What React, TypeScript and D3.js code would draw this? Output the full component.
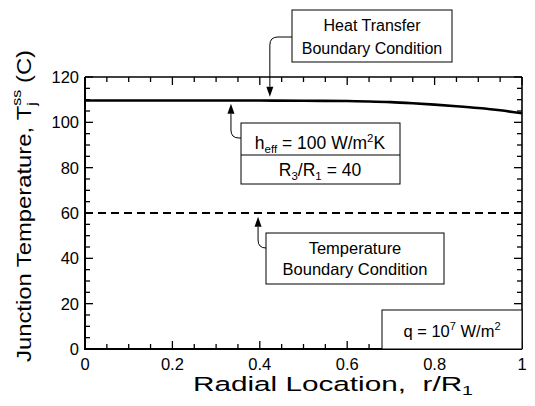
import React from 'react';
import * as d3 from 'd3';

// values
const radial = [0, 0.1, 0.2, 0.3, 0.4, 0.5, 0.6, 0.65, 0.7, 0.75, 0.8, 0.85, 0.9, 0.95, 1.0];
const heatTransferBC = [109.6, 109.6, 109.6, 109.6, 109.6, 109.5, 109.4, 109.2, 108.9, 108.4, 107.8, 107.1, 106.3, 105.3, 104.0];
const tempRadial = [0, 1];
const temperatureBC = [60, 60];

const xMajor = [0, 0.2, 0.4, 0.6, 0.8, 1];
const xLabels = ['0', '0.2', '0.4', '0.6', '0.8', '1'];
const yMajor = [0, 20, 40, 60, 80, 100, 120];

const W = 535;
const H = 406;
const margin = { left: 85, right: 13, top: 77, bottom: 57 };
const font = '"Liberation Sans", Arial, Helvetica, sans-serif';

const x = d3.scaleLinear().domain([0, 1]).range([margin.left, W - margin.right]);
const y = d3.scaleLinear().domain([0, 120]).range([H - margin.bottom, margin.top]);

const line = d3.line<number>()
  .x((_, i) => x(radial[i]))
  .y(d => y(d))
  .curve(d3.curveMonotoneX);

const dashLine = d3.line<number>()
  .x((_, i) => x(tempRadial[i]))
  .y(d => y(d));

// curved leader from a box edge to a target point, with a filled head
const Leader = ({ fx, fy, tx, ty }: { fx: number; fy: number; tx: number; ty: number }) => {
  const dir = ty > fy ? 1 : -1;
  const r = 8;
  const head = 10;
  const d = `M${fx},${fy} L${tx + r},${fy} Q${tx},${fy} ${tx},${fy + dir * r} L${tx},${ty - dir * head}`;
  return (
    <g>
      <path d={d} fill="none" stroke="#000" strokeWidth={1} />
      <path d={`M${tx},${ty} L${tx - 3.5},${ty - dir * head} L${tx + 3.5},${ty - dir * head} Z`} fill="#000" />
    </g>
  );
};

export default function App() {
  const x0 = x.range()[0], x1 = x.range()[1];
  const y0 = y.range()[0], y1 = y.range()[1];
  const xMinor = d3.range(0, 1.0001, 0.05).filter(v => !xMajor.some(m => Math.abs(m - v) < 1e-6));
  const yMinor = d3.range(0, 120.001, 5).filter(v => v % 20 !== 0);

  return (
    <div style={{ position: 'fixed', left: 0, top: 0 }}>
      <svg width={W} height={H} style={{ display: 'block', background: '#fff' }} fontFamily={font}>
        {/* ticks, inward on all four sides */}
        <g stroke="#000" strokeWidth={1.3}>
          {xMajor.map(v => (
            <g key={'xm' + v}>
              <line x1={x(v)} x2={x(v)} y1={y0} y2={y0 - 8} />
              <line x1={x(v)} x2={x(v)} y1={y1} y2={y1 + 8} />
            </g>
          ))}
          {xMinor.map(v => (
            <g key={'xn' + v}>
              <line x1={x(v)} x2={x(v)} y1={y0} y2={y0 - 5} />
              <line x1={x(v)} x2={x(v)} y1={y1} y2={y1 + 5} />
            </g>
          ))}
          {yMajor.map(v => (
            <g key={'ym' + v}>
              <line x1={x0} x2={x0 + 8} y1={y(v)} y2={y(v)} />
              <line x1={x1} x2={x1 - 8} y1={y(v)} y2={y(v)} />
            </g>
          ))}
          {yMinor.map(v => (
            <g key={'yn' + v}>
              <line x1={x0} x2={x0 + 5} y1={y(v)} y2={y(v)} />
              <line x1={x1} x2={x1 - 5} y1={y(v)} y2={y(v)} />
            </g>
          ))}
        </g>

        {/* frame */}
        <line x1={x0} x2={x1} y1={y1} y2={y1} stroke="#000" strokeWidth={1.6} />
        <line x1={x1} x2={x1} y1={y1} y2={y0} stroke="#000" strokeWidth={1.6} />
        <line x1={x0} x2={x0} y1={y1} y2={y0 + 1} stroke="#000" strokeWidth={2} />
        <line x1={x0 - 1} x2={x1} y1={y0} y2={y0} stroke="#000" strokeWidth={2} />

        {/* tick labels */}
        <g fontSize={16.5} fill="#000">
          {xMajor.map((v, i) => (
            <text key={'xl' + v} x={x(v)} y={y0 + 21} textAnchor="middle">{xLabels[i]}</text>
          ))}
          {yMajor.map(v => (
            <text key={'yl' + v} x={x0 - 6} y={y(v) + 6} textAnchor="end">{v}</text>
          ))}
        </g>

        {/* series */}
        <path d={line(heatTransferBC) || ''} fill="none" stroke="#000" strokeWidth={2.6} />
        <path d={dashLine(temperatureBC) || ''} fill="none" stroke="#000" strokeWidth={2} strokeDasharray="8,5" />

        {/* heat transfer BC label */}
        <rect x={292} y={10} width={160} height={52} fill="#fff" stroke="#000" strokeWidth={1} />
        <text x={372} y={31} fontSize={16} textAnchor="middle">Heat Transfer</text>
        <text x={372} y={54} fontSize={16} textAnchor="middle">Boundary Condition</text>
        <Leader fx={292} fy={37} tx={x(0.423)} ty={y(111.3)} />

        {/* h_eff / R3/R1 label */}
        <rect x={241} y={123} width={159} height={61} fill="#fff" stroke="#000" strokeWidth={1} />
        <line x1={241} x2={400} y1={155} y2={155} stroke="#000" strokeWidth={1} />
        <text x={320} y={149} fontSize={17.5} textAnchor="middle">
          h<tspan fontSize={11.5} dy={4}>eff</tspan><tspan dy={-4}> = 100 W/m</tspan><tspan fontSize={11.5} dy={-7}>2</tspan><tspan dy={7}>K</tspan>
        </text>
        <text x={320} y={176} fontSize={17.5} textAnchor="middle">
          R<tspan fontSize={11.5} dy={4}>3</tspan><tspan dy={-4}>/R</tspan><tspan fontSize={11.5} dy={4}>1</tspan><tspan dy={-4}> = 40</tspan>
        </text>
        <Leader fx={241} fy={138} tx={x(0.334)} ty={y(108.2)} />

        {/* temperature BC label */}
        <rect x={266} y={233} width={178} height={51} fill="#fff" stroke="#000" strokeWidth={1} />
        <text x={355} y={254} fontSize={16.5} textAnchor="middle">Temperature</text>
        <text x={355} y={275} fontSize={16.5} textAnchor="middle">Boundary Condition</text>
        <Leader fx={266} fy={248} tx={x(0.396)} ty={y(58.3)} />

        {/* heat flux label */}
        <rect x={382} y={310} width={x1 - 382} height={y0 - 310} fill="#fff" stroke="#000" strokeWidth={1} />
        <text x={452} y={337} fontSize={16.5} textAnchor="middle">
          q = 10<tspan fontSize={11} dy={-7}>7</tspan><tspan dy={7}> W/m</tspan><tspan fontSize={11} dy={-7}>2</tspan>
        </text>

        {/* axis titles (the figure's lettering is set wide) */}
        <text x={193} y={391} fontSize={20.5} textLength={280} lengthAdjust="spacingAndGlyphs">
          Radial Location,{'\u00a0\u00a0'}r/R<tspan fontSize={13.5} dy={4}>1</tspan>
        </text>
        <text transform={`translate(31,362) rotate(-90)`} fontSize={20} textLength={312} lengthAdjust="spacingAndGlyphs">
          Junction Temperature,{'\u00a0'}T<tspan fontSize={13.5} dy={5}>j</tspan><tspan fontSize={13.5} dx={-3} dy={-15}>ss</tspan><tspan dy={10}>{'\u00a0'}(C)</tspan>
        </text>
      </svg>
    </div>
  );
}
